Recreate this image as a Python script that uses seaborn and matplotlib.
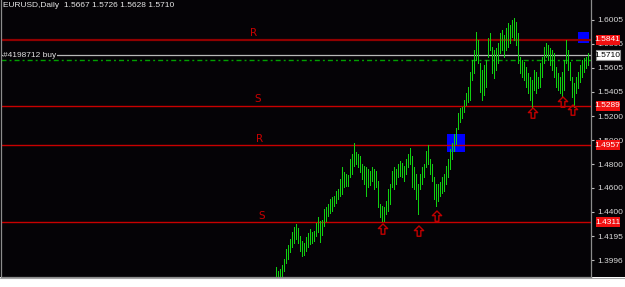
import numpy as np
import pandas as pd
import matplotlib
matplotlib.use("Agg")
import matplotlib.pyplot as plt
import matplotlib.transforms as mtransforms
from matplotlib.patches import Rectangle
from matplotlib.path import Path
from matplotlib.lines import Line2D
from matplotlib import font_manager
import seaborn as sns

# ---------------- data ----------------
title = "EURUSD,Daily  1.5667 1.5726 1.5628 1.5710"

highs = [
    1.3939, 1.3905, 1.3922, 1.3955, 1.4005, 1.4089, 1.4122, 1.4172, 1.4230, 1.4272,
    1.4297, 1.4264, 1.4197, 1.4155, 1.4139, 1.4189, 1.4222, 1.4255, 1.4230, 1.4239,
    1.4305, 1.4355, 1.4322, 1.4330, 1.4422, 1.4439, 1.4464, 1.4505, 1.4522, 1.4530,
    1.4572, 1.4589, 1.4672, 1.4772, 1.4730, 1.4714, 1.4705, 1.4839, 1.4880, 1.4980,
    1.4897, 1.4880, 1.4864, 1.4797, 1.4780, 1.4772, 1.4755, 1.4739, 1.4772, 1.4755,
    1.4739, 1.4655, 1.4464, 1.4447, 1.4439, 1.4489, 1.4589, 1.4630, 1.4739, 1.4772,
    1.4755, 1.4797, 1.4822, 1.4805, 1.4780, 1.4839, 1.4880, 1.4930, 1.4864, 1.4772,
    1.4714, 1.4630, 1.4714, 1.4772, 1.4797, 1.4905, 1.4955, 1.4839, 1.4797, 1.4689,
    1.4630, 1.4630, 1.4647, 1.4689, 1.4714, 1.4780, 1.4839, 1.4922, 1.4980, 1.5047,
    1.5105, 1.5230, 1.5272, 1.5280, 1.5339, 1.5397, 1.5447, 1.5572, 1.5672, 1.5755,
    1.5905, 1.5839, 1.5647, 1.5589, 1.5630, 1.5672, 1.5855, 1.5897, 1.5780, 1.5755,
    1.5772, 1.5814, 1.5897, 1.5922, 1.5880, 1.5939, 1.5980, 1.5964, 1.6005, 1.6022,
    1.5989, 1.5897, 1.5697, 1.5672, 1.5655, 1.5614, 1.5564, 1.5530, 1.5505, 1.5589,
    1.5572, 1.5530, 1.5647, 1.5697, 1.5780, 1.5814, 1.5797, 1.5772, 1.5755, 1.5730,
    1.5614, 1.5564, 1.5530, 1.5572, 1.5672, 1.5839, 1.5755, 1.5655, 1.5530, 1.5480,
    1.5530, 1.5572, 1.5630, 1.5672, 1.5689, 1.5697, 1.5726,
]
lows = [
    1.3822, 1.3814, 1.3839, 1.3855, 1.3905, 1.3972, 1.4005, 1.4064, 1.4105, 1.4139,
    1.4172, 1.4139, 1.4072, 1.4030, 1.4039, 1.4072, 1.4105, 1.4130, 1.4139, 1.4155,
    1.4197, 1.4230, 1.4147, 1.4205, 1.4280, 1.4322, 1.4364, 1.4389, 1.4405, 1.4447,
    1.4472, 1.4505, 1.4530, 1.4547, 1.4605, 1.4614, 1.4614, 1.4689, 1.4714, 1.4780,
    1.4797, 1.4772, 1.4730, 1.4672, 1.4630, 1.4530, 1.4605, 1.4622, 1.4655, 1.4589,
    1.4605, 1.4439, 1.4355, 1.4322, 1.4322, 1.4380, 1.4405, 1.4464, 1.4605, 1.4589,
    1.4630, 1.4689, 1.4697, 1.4689, 1.4655, 1.4714, 1.4772, 1.4797, 1.4605, 1.4589,
    1.4505, 1.4380, 1.4589, 1.4630, 1.4689, 1.4772, 1.4797, 1.4714, 1.4655, 1.4505,
    1.4447, 1.4489, 1.4530, 1.4555, 1.4572, 1.4630, 1.4689, 1.4755, 1.4839, 1.4905,
    1.4964, 1.5089, 1.5155, 1.5189, 1.5239, 1.5297, 1.5322, 1.5339, 1.5505, 1.5564,
    1.5672, 1.5647, 1.5405, 1.5339, 1.5380, 1.5447, 1.5697, 1.5755, 1.5564, 1.5522,
    1.5589, 1.5647, 1.5730, 1.5755, 1.5697, 1.5755, 1.5780, 1.5814, 1.5864, 1.5839,
    1.5797, 1.5647, 1.5564, 1.5530, 1.5505, 1.5447, 1.5397, 1.5339, 1.5280, 1.5422,
    1.5397, 1.5439, 1.5447, 1.5530, 1.5647, 1.5697, 1.5672, 1.5630, 1.5589, 1.5530,
    1.5447, 1.5422, 1.5397, 1.5364, 1.5422, 1.5647, 1.5589, 1.5505, 1.5364, 1.5280,
    1.5397, 1.5439, 1.5489, 1.5530, 1.5572, 1.5605, 1.5628,
]
bars = list(range(len(highs)))

levels = [1.5841, 1.5289, 1.4957, 1.4311]
level_kind = ["R", "S", "R", "S"]
level_label_bar = [-11, -9, -8, -7]

bid_price = 1.5710
order_price = 1.5667
order_label = "#4198712 buy"

arrow_bar = [53.5, 71.5, 80.5, 128.5, 143.5, 148.5]
arrow_price = [1.4256, 1.4239, 1.4364, 1.5226, 1.5318, 1.5251]

tick_vals = [1.6005, 1.5805, 1.5605, 1.5405, 1.5200, 1.5000, 1.4800, 1.4600, 1.4400, 1.4195, 1.3996]
tick_labels = ["1.6005", "1.5805", "1.5605", "1.5405", "1.5200", "1.5000", "1.4800",
               "1.4600", "1.4400", "1.4195", "1.3996"]

tag_prices = [1.5841, 1.5710, 1.5289, 1.4957, 1.4311]
tag_labels = ["1.5841", "1.5710", "1.5289", "1.4957", "1.4311"]

# ---------------- style ----------------
BG = "#050306"
GREEN = "#10d010"
RED = "#c80000"

sns.set_theme(style="dark", rc={"axes.facecolor": BG, "figure.facecolor": "white",
                                "axes.grid": False, "axes.edgecolor": "#8c8c8c"})

installed = {f.name for f in font_manager.fontManager.ttflist}
if "Liberation Sans Narrow" in installed:
    FAMILY = ["Liberation Sans Narrow", "DejaVu Sans"]
    FS = 6.5
else:
    FAMILY = ["Liberation Sans", "DejaVu Sans"]
    FS = 6.0
plt.rcParams["font.family"] = FAMILY

W, H = 625, 287
fig = plt.figure(figsize=(W / 100, H / 100), dpi=100)
fig.patches.append(Rectangle((0, 10 / H), 1, 277 / H, transform=fig.transFigure,
                             facecolor=BG, edgecolor="none", zorder=-5))
fig.add_artist(Line2D([0, 1], [9.5 / H, 9.5 / H], transform=fig.transFigure,
                      color="#a8a8a8", lw=0.8, zorder=-4))

ax = fig.add_axes([1 / W, 10 / H, 590 / W, 277 / H])
ax.set_facecolor(BG)
ax.set_xlim(-137.5, 157.5)
ax.set_ylim(1.3855, 1.6172)
PX = 277 / (1.6172 - 1.3855)  # pixels per price unit

# blue boxes (drawn beneath)
ax.add_patch(Rectangle((85.5, 1.4900), 9, 0.0151, facecolor="#0000ff", edgecolor="none", zorder=1))
ax.add_patch(Rectangle((151, 1.5812), 5.6, 0.0092, facecolor="#0000ff", edgecolor="none", zorder=1))

# horizontal levels
for i, (lv, kind, lb) in enumerate(zip(levels, level_kind, level_label_bar)):
    if i == 0:
        ax.axhline(lv, color="#900000", lw=1.6, zorder=2)
    else:
        ax.axhline(lv, color="#c80000", lw=1.0, zorder=2)
    ax.text(lb, lv + 1.5 / PX, kind, color=RED, fontsize=7.5, ha="center", va="bottom",
            family=["DejaVu Sans"], zorder=2)

ax.axhline(bid_price, color="#b8b8b8", lw=0.9, zorder=2)
ax.axhline(order_price, color="#00a000", lw=1.0, dashes=(3.6, 2.2, 1.4, 2.2), zorder=2)

# OHLC bars via seaborn
df = pd.DataFrame({"bar": np.repeat(bars, 2),
                   "price": np.ravel(np.column_stack([highs, lows]))})
sns.lineplot(data=df, x="bar", y="price", units="bar", estimator=None, sort=False,
             color=GREEN, lw=0.5, antialiased=False, ax=ax, legend=False, zorder=3)

# arrows
arrow_path = Path([(-0.45, 0.05), (0, 0.5), (0.45, 0.05), (0.18, 0.05), (0.18, -0.5),
                   (-0.18, -0.5), (-0.18, 0.05), (-0.45, 0.05)], closed=True)
ax.scatter(arrow_bar, arrow_price, marker=arrow_path, s=55, facecolors="none",
           edgecolors="#c00000", linewidths=1.0, zorder=4)

# axes decorations
ax.set_xlabel("")
ax.set_ylabel("")
ax.set_xticks([])
ax.yaxis.tick_right()
ax.set_yticks(tick_vals)
ax.set_yticklabels(tick_labels)
ax.tick_params(axis="y", colors="#bdbdbd", labelcolor="#d8d8d8", length=2.5, width=0.8,
               pad=2, labelsize=FS, direction="out")
ax.spines["top"].set_visible(False)
for s in ["left", "right", "bottom"]:
    ax.spines[s].set_color("#8c8c8c")
    ax.spines[s].set_linewidth(0.9)

# price tags on the right
blend = mtransforms.blended_transform_factory(fig.transFigure, ax.transData)
for p, lab in zip(tag_prices, tag_labels):
    white = abs(p - bid_price) < 1e-9
    rect = Rectangle((595.5 / W, p - 5 / PX), 24 / W, 10 / PX, transform=blend,
                     facecolor="white" if white else "#f01010",
                     edgecolor="#909090" if white else "none", lw=0.8,
                     clip_on=False, zorder=10)
    ax.add_patch(rect)
    ax.text(607.5 / W, p, lab, transform=blend, ha="center", va="center",
            color="black" if white else "white", fontsize=FS, clip_on=False, zorder=11)

# texts
fig.text(3 / W, 1 - 5.5 / H, title, ha="left", va="center", color="#e6e6e6", fontsize=FS)
ax.text(3 / W, bid_price, order_label, transform=blend, ha="left", va="center",
        color="#e0e0e0", fontsize=FS, zorder=5,
        bbox=dict(facecolor=BG, edgecolor="none", pad=0.3))

fig.savefig("out.png", dpi=100)
